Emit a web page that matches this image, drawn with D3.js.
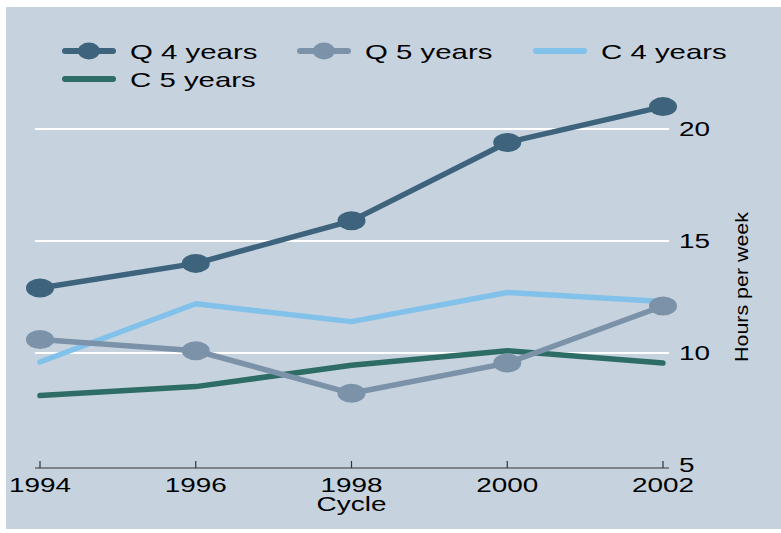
<!DOCTYPE html>
<html>
<head>
<meta charset="utf-8">
<script src="https://cdn.jsdelivr.net/npm/d3@7"></script>
<style>
  body { margin: 0; background: #fff; }
  text { font-family: "Liberation Sans", Arial, sans-serif; fill: #000; }
</style>
</head>
<body>
<svg id="chart"></svg>
<script>
// data
const cycles = [1994, 1996, 1998, 2000, 2002];
const q4Years = [12.9, 14.0, 15.9, 19.4, 21.0];
const q5Years = [10.6, 10.1, 8.2, 9.55, 12.1];
const c4Years = [9.6, 12.2, 11.4, 12.7, 12.3];
const c5Years = [8.1, 8.5, 9.45, 10.1, 9.55];
const yTicks = [5, 10, 15, 20];

const series = [
    { name: "Q 4 years", values: q4Years, color: "#3e647d", marker: true },
    { name: "Q 5 years", values: q5Years, color: "#7b92a8", marker: true },
    { name: "C 4 years", values: c4Years, color: "#82c1ea", marker: false },
    { name: "C 5 years", values: c5Years, color: "#2d6d66", marker: false }
];

const width = 781, height = 533;

const svg = d3.select("#chart").attr("width", width).attr("height", height);

// background panel
svg.append("rect")
    .attr("x", 6).attr("y", 7)
    .attr("width", width - 6).attr("height", 522)
    .attr("fill", "#c6d3df");

const x = d3.scaleLinear().domain([1994, 2002]).range([40, 663]);
const y = d3.scaleLinear().domain([5, 20]).range([465, 129]);

// text in the original looks horizontally stretched
function label(g, px, py, txt, size, anchor, sx) {
    return g.append("text")
        .attr("transform", `translate(${px},${py}) scale(${sx || 1.33},1)`)
        .attr("font-size", size)
        .attr("text-anchor", anchor || "start")
        .text(txt);
}

// gridlines
svg.append("g")
    .selectAll("line")
    .data(yTicks.filter(d => d > 5))
    .join("line")
    .attr("x1", 35).attr("x2", 669)
    .attr("y1", d => y(d)).attr("y2", d => y(d))
    .attr("stroke", "#fff")
    .attr("stroke-width", 2);

// x axis line + ticks
const axisY = y(5) + 3;
svg.append("line")
    .attr("x1", 35).attr("x2", 669)
    .attr("y1", axisY).attr("y2", axisY)
    .attr("stroke", "#333").attr("stroke-width", 1.2);
svg.append("g")
    .selectAll("line")
    .data(cycles)
    .join("line")
    .attr("x1", d => x(d)).attr("x2", d => x(d))
    .attr("y1", axisY).attr("y2", axisY - 7)
    .attr("stroke", "#333").attr("stroke-width", 1.2);

const xl = svg.append("g");
cycles.forEach(c => label(xl, x(c), 492, String(c), 21, "middle"));
label(xl, x(1998), 511, "Cycle", 21, "middle");

// right y tick labels
const yl = svg.append("g");
yTicks.forEach(t => label(yl, 679, y(t) + 7, String(t), 21, "start"));

// y title (rotated)
svg.append("text")
    .attr("transform", "translate(748,287) rotate(-90)")
    .attr("font-size", 18)
    .attr("text-anchor", "middle")
    .attr("textLength", 150)
    .attr("lengthAdjust", "spacingAndGlyphs")
    .text("Hours per week");

// lines
const line = d3.line()
    .x((d, i) => x(cycles[i]))
    .y(d => y(d));

// draw in reverse so Q 4 years ends on top
const plot = svg.append("g");
series.slice().reverse().forEach(s => {
    plot.append("path")
        .datum(s.values)
        .attr("d", line)
        .attr("fill", "none")
        .attr("stroke", s.color)
        .attr("stroke-width", 5.5)
        .attr("stroke-linecap", "round")
        .attr("stroke-linejoin", "round");
    if (s.marker) {
        plot.selectAll(null)
            .data(s.values)
            .join("ellipse")
            .attr("cx", (d, i) => x(cycles[i]))
            .attr("cy", d => y(d))
            .attr("rx", 14).attr("ry", 9.5)
            .attr("fill", s.color);
    }
});

// legend
const legendPos = [
    { lx: 62, ty: 51 }, { lx: 297, ty: 51 }, { lx: 533, ty: 51 }, { lx: 62, ty: 79 }
];
const lg = svg.append("g");
series.forEach((s, i) => {
    const p = legendPos[i];
    lg.append("line")
        .attr("x1", p.lx + 3).attr("x2", p.lx + 51)
        .attr("y1", p.ty).attr("y2", p.ty)
        .attr("stroke", s.color)
        .attr("stroke-width", 6)
        .attr("stroke-linecap", "round");
    if (s.marker) {
        lg.append("ellipse")
            .attr("cx", p.lx + 27).attr("cy", p.ty)
            .attr("rx", 11).attr("ry", 8.5)
            .attr("fill", s.color);
    }
    label(lg, p.lx + 68, p.ty + 7.5, s.name, 21, "start", 1.4);
});
</script>
</body>
</html>
